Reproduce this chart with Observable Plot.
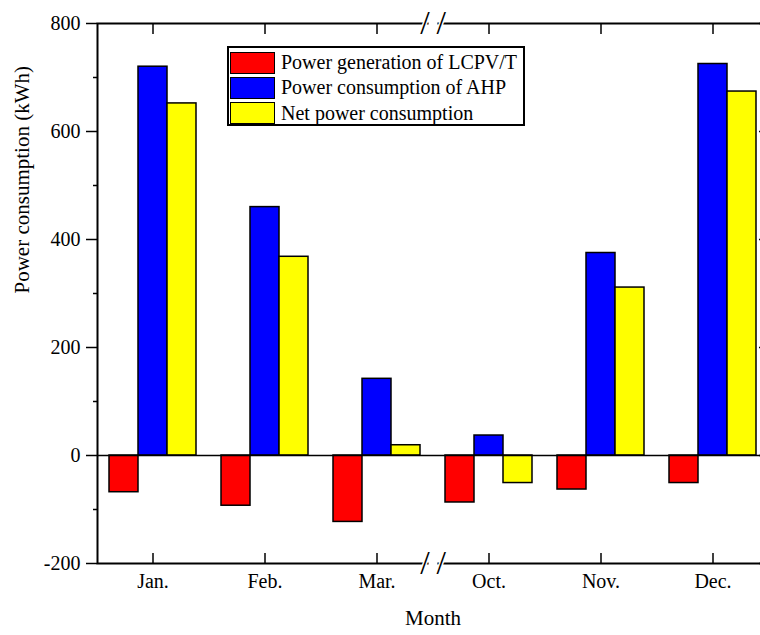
<!DOCTYPE html>
<html>
<head>
<meta charset="utf-8">
<script src="https://cdn.jsdelivr.net/npm/d3@7"></script>
<script src="https://cdn.jsdelivr.net/npm/@observablehq/plot@0.6"></script>
<style>
  html, body { margin: 0; padding: 0; background: #fff; overflow: hidden; }
  #wrap { position: relative; width: 760px; height: 635px; overflow: hidden; background: #fff; }
  #wrap svg { position: absolute; left: 0; top: 0; }
  #wrap svg, #wrap svg g, #wrap svg text { font-family: "Liberation Serif", "Times New Roman", serif !important; }
  #legend { position: absolute; left: 227px; top: 46px; width: 298px; height: 80px; box-sizing: border-box;
            border: 2px solid #000; background: #fff; font-family: "Liberation Serif", serif; font-size: 20px;
            color: #000; padding: 2px 0 0 1px; z-index: 5; white-space: nowrap; }
  .row { display: flex; align-items: center; height: 25.3px; white-space: nowrap; }
  .sw { flex: none; width: 45px; height: 22px; box-sizing: border-box; border: 1.5px solid #000; margin-right: 6px; }
</style>
</head>
<body>
<div id="wrap"></div>
<script>
// ---- data ----
const months = ["Jan.", "Feb.", "Mar.", "Oct.", "Nov.", "Dec."];
const seriesNames = ["Power generation of LCPV/T", "Power consumption of AHP", "Net power consumption"];
const generation = [-68, -93, -123, -87, -63, -51];
const ahpConsumption = [720, 460, 142, 37, 375, 725];
const netConsumption = [652, 368, 19, -51, 311, 674];
const seriesColors = ["#ff0000", "#0000ff", "#ffff00"];
const yTicks = [-200, 0, 200, 400, 600, 800];
const yMinorTicks = [-100, 100, 300, 500, 700];
const yDomain = [-200, 800];
const breakAfter = "Mar.";
const yLabel = "Power consumption (kWh)";
const xLabel = "Month";

const seriesValues = [generation, ahpConsumption, netConsumption];
const rows = [];
months.forEach((m, i) => seriesNames.forEach((s, j) => rows.push({month: m, series: s, value: seriesValues[j][i]})));
const breakPoints = [{m: breakAfter, v: yDomain[0]}, {m: breakAfter, v: yDomain[1]}];

// ---- layout ----
const W = 770, H = 635, ML = 97, MR = 2, MT = 23, MB = 72;
const FF = "Liberation Serif";
const bandOpts = {paddingInner: 0.207, paddingOuter: 0.093};
const font = {fontFamily: FF, fontSize: "20px", color: "#000", maxWidth: "none", overflow: "visible"};

const bars = Plot.plot({
  width: W, height: H, marginLeft: ML, marginRight: MR, marginTop: MT, marginBottom: MB,
  style: {...font, background: "#fff"},
  facet: {data: rows, x: "month", marginTop: 0, marginBottom: 0, marginLeft: 0, marginRight: 0},
  fx: {domain: months, ...bandOpts, axis: null, label: null},
  x: {domain: seriesNames, padding: 0, axis: null, label: null},
  y: {domain: yDomain, axis: null, label: null},
  color: {domain: seriesNames, range: seriesColors},
  marks: [
    Plot.barY(rows, {x: "series", y1: 0, y2: "value", fill: "series", stroke: "#000", strokeWidth: 1.5})
  ]
});

const axes = Plot.plot({
  width: W, height: H, marginLeft: ML, marginRight: MR, marginTop: MT, marginBottom: MB,
  style: {...font, background: "transparent"},
  x: {type: "band", domain: months, ...bandOpts, label: null},
  y: {domain: yDomain, label: null},
  marks: [
    Plot.ruleY([0], {stroke: "#000", strokeWidth: 1.5}),
    Plot.frame({stroke: "#000", strokeWidth: 2}),
    Plot.axisY({ticks: yTicks, tickSize: 11, tickPadding: 6, strokeWidth: 1.5, label: null, fontSize: 20,
      fontFamily: FF, tickFormat: d => String(d)}),
    Plot.axisY({ticks: yMinorTicks, tickSize: 4, strokeWidth: 1.5, tickFormat: () => "", label: null}),
    Plot.axisY({anchor: "right", ticks: yTicks, tickSize: -10, strokeWidth: 1.5, tickFormat: () => "", label: null}),
    Plot.axisX({anchor: "bottom", tickSize: -10, strokeWidth: 1.5, tickFormat: () => "", label: null}),
    Plot.axisX({anchor: "bottom", tickSize: 0, tickPadding: 10, label: null, fontSize: 20, fontFamily: FF}),
    Plot.axisX({anchor: "top", tickSize: -10, strokeWidth: 1.5, tickFormat: () => "", label: null}),
    // axis break: erase the line between the slashes, then draw them
    Plot.dot(breakPoints, {x: "m", y: "v", dx: 56, symbol: "square", r: 5, fill: "#fff", stroke: "none"}),
    Plot.text(breakPoints, {x: "m", y: "v", dx: 56, lineAnchor: "middle", text: () => "/\u2009/", fontSize: 34,
      fontFamily: FF, fill: "#000", stroke: "#fff", strokeWidth: 3, paintOrder: "stroke"}),
    Plot.text([yLabel], {frameAnchor: "left", text: d => d, rotate: -90, dx: -75, fontSize: 21, fontFamily: FF, fill: "#000"}),
    Plot.text([xLabel], {frameAnchor: "bottom", text: d => d, dy: 61, fontSize: 21, fontFamily: FF, fill: "#000"})
  ]
});

const wrap = document.getElementById("wrap");
wrap.appendChild(bars);
wrap.appendChild(axes);

const legend = document.createElement("div");
legend.id = "legend";
seriesNames.forEach((s, j) => {
  const r = document.createElement("div");
  r.className = "row";
  const sw = document.createElement("div");
  sw.className = "sw";
  sw.style.background = seriesColors[j];
  const t = document.createElement("span");
  t.textContent = s;
  r.appendChild(sw); r.appendChild(t);
  legend.appendChild(r);
});
wrap.appendChild(legend);
</script>
</body>
</html>
